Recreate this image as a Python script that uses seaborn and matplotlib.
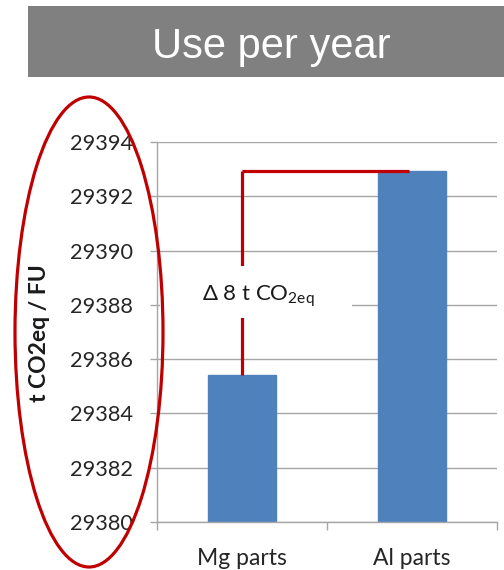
import matplotlib
matplotlib.use("Agg")
import matplotlib.pyplot as plt
from matplotlib.patches import Rectangle, Ellipse
import seaborn as sns
import pandas as pd

categories = ["Mg parts", "Al parts"]
values = [29385.4, 29392.95]
yticks = [29380, 29382, 29384, 29386, 29388, 29390, 29392, 29394]
title = "Use per year"
ylabel = "t CO2eq / FU"
delta_label = "Δ 8 t CO$_{\\mathrm{2eq}}$"

sns.set_theme(style="white")
plt.rcParams["font.family"] = ["Lato", "DejaVu Sans"]
plt.rcParams["mathtext.fontset"] = "custom"
plt.rcParams["mathtext.rm"] = "Lato"
plt.rcParams["mathtext.it"] = "Lato:italic"

W, H = 504, 570
fig = plt.figure(figsize=(W / 100, H / 100), dpi=100)
fig.patch.set_facecolor("white")

ax = fig.add_axes([157 / W, (H - 522) / H, (497 - 157) / W, (522 - 142) / H])
df = pd.DataFrame({"cat": categories, "val": values})
sns.barplot(data=df, x="cat", y="val", color="#4F81BD", width=0.4,
            saturation=1, ax=ax, zorder=2)
for p in ax.patches:
    p.set_edgecolor("#4F81BD")
ax.set_xlim(-0.5, 1.5)
ax.set_ylim(yticks[0], yticks[-1])
ax.set_yticks(yticks)
ax.set_yticklabels([str(t) for t in yticks], fontsize=15.7, color="#262626")
ax.yaxis.grid(True, color="#A6A6A6", linewidth=1.0, zorder=0)
ax.set_axisbelow(True)
for s in ["top", "right"]:
    ax.spines[s].set_visible(False)
for s in ["left", "bottom"]:
    ax.spines[s].set_color("#A6A6A6")
    ax.spines[s].set_linewidth(1.0)
ax.tick_params(axis="y", which="major", direction="out", length=5, width=1,
               color="#A6A6A6", left=True, pad=12.3)
ax.set_xticks([0, 1])
ax.set_xticklabels(categories, fontsize=16.5, color="#262626")
ax.tick_params(axis="x", which="major", length=0, pad=18.5)
ax.set_xticks([-0.5, 0.5, 1.5], minor=True)
ax.tick_params(axis="x", which="minor", direction="out", length=6, width=1,
               color="#A6A6A6", bottom=True)
ax.set_xlabel("")
ax.set_ylabel("")

# red bracket
red = "#C00000"
ax.plot([0, 0], [values[0], values[1]], color=red, lw=2.3, zorder=3,
        solid_capstyle="butt")
ax.plot([0, 0.98], [values[1], values[1]], color=red, lw=2.3, zorder=3,
        solid_capstyle="butt")

# overlay in pixel coordinates
ov = fig.add_axes([0, 0, 1, 1], facecolor="none")
ov.set_xlim(0, W)
ov.set_ylim(H, 0)
ov.axis("off")
ov.add_patch(Rectangle((28, 6), W - 28, 71, facecolor="#808080",
                       edgecolor="none"))
ov.text(271, 58, title, color="white", fontsize=30,
        family=["Liberation Sans", "DejaVu Sans"], ha="center", va="baseline")
ov.add_patch(Rectangle((160, 266), 192, 52, facecolor="white",
                       edgecolor="none"))
ov.text(202, 301, delta_label, fontsize=16, color="#1a1a1a",
        ha="left", va="baseline")
ov.add_patch(Ellipse((89, 332), 148, 470, facecolor="none", edgecolor=red,
                     lw=2.3))
ov.text(40, 333, ylabel, rotation=90, fontsize=16.5, fontweight="bold",
        color="#1a1a1a", ha="center", va="center")

fig.savefig("out.png", dpi=100)
